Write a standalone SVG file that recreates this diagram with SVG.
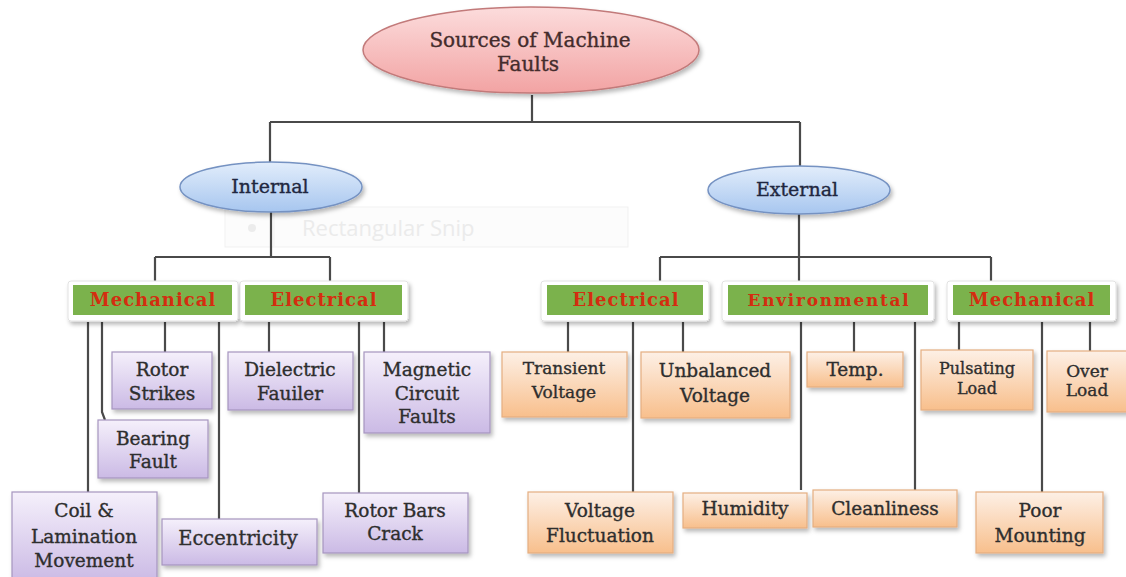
<svg xmlns="http://www.w3.org/2000/svg" width="1126" height="577" viewBox="0 0 1126 577">
  <defs>
    <linearGradient id="gPink" x1="0" y1="0" x2="0" y2="1">
      <stop offset="0" stop-color="#fcdcdc"/>
      <stop offset="1" stop-color="#f2a3a3"/>
    </linearGradient>
    <linearGradient id="gBlue" x1="0" y1="0" x2="0" y2="1">
      <stop offset="0" stop-color="#e2edfb"/>
      <stop offset="1" stop-color="#a7c6ef"/>
    </linearGradient>
    <linearGradient id="gPurple" x1="0" y1="0" x2="0" y2="1">
      <stop offset="0" stop-color="#f5f0fb"/>
      <stop offset="1" stop-color="#cbbae5"/>
    </linearGradient>
    <linearGradient id="gOrange" x1="0" y1="0" x2="0" y2="1">
      <stop offset="0" stop-color="#fdf0e6"/>
      <stop offset="1" stop-color="#f8bf8c"/>
    </linearGradient>
    <filter id="shadow" x="-10%" y="-10%" width="130%" height="140%">
      <feDropShadow dx="2" dy="3" stdDeviation="2" flood-color="#000" flood-opacity="0.28"/>
    </filter>
  </defs>
  <style>
    text { font-family: "DejaVu Serif", "Liberation Serif", serif; text-anchor: middle; }
    .root { fill: url(#gPink); stroke: #c27a7a; stroke-width: 1.5; filter: url(#shadow); }
    .branch { fill: url(#gBlue); stroke: #7592c2; stroke-width: 1.5; filter: url(#shadow); }
    .frame { fill: #ffffff; stroke: #e2e2e2; stroke-width: 1; filter: url(#shadow); }
    .green { fill: #7bb24c; }
    .purple { fill: url(#gPurple); stroke: #a695bf; stroke-width: 1.2; filter: url(#shadow); }
    .orange { fill: url(#gOrange); stroke: #e5ae80; stroke-width: 1.2; filter: url(#shadow); }
    .tRoot { font-size: 20px; fill: #442c2c; stroke: #442c2c; stroke-width: 0.35; }
    .tBranch { font-size: 19px; fill: #1f2740; stroke: #1f2740; stroke-width: 0.35; }
    .tHead { font-size: 18px; font-weight: bold; fill: #d42d10; letter-spacing: 1px; }
    .tLeaf { font-size: 18.5px; fill: #2e2e2e; stroke: #2e2e2e; stroke-width: 0.35; }
    .links { fill: none; stroke: #4a4a4a; stroke-width: 2.2; }
  </style>

  <rect width="1126" height="577" fill="#ffffff"/>

  <!-- faint snipping-tool overlay -->
  <g id="snip-overlay">
    <rect x="225" y="207" width="403" height="40" fill="#fcfcfc" stroke="#f1f1f1"/>
    <circle cx="252" cy="228" r="4" fill="#ececec"/>
    <line x1="274" y1="208" x2="274" y2="246" stroke="#f1f1f1"/>
    <text x="302" y="236" style="font-family:'Open Sans','Noto Sans',sans-serif;font-size:22px;fill:#ebebeb;text-anchor:start">Rectangular Snip</text>
  </g>

  <!-- connectors -->
  <g id="connectors" class="links">
    <path d="M532,95 V122 M270,122 H800 M270,122 V163 M800,122 V166"/>
    <path d="M271,212 V257 M155,257 H330 M155,257 V283 M330,257 V283"/>
    <path d="M88,322 V492 M102,322 V412 L105,420 M165,322 V352 M219,322 V519"/>
    <path d="M269,322 V352 M359,322 V493 M384,322 V352"/>
    <path d="M799,214 V257 M660,257 H991 M660,257 V283 M799,257 V283 M991,257 V283"/>
    <path d="M568,322 V352 M633,322 V492 M683,322 V352"/>
    <path d="M801,322 V490 M854,322 V352 M915,322 V490"/>
    <path d="M959,322 V350 M1042,322 V492 M1090,322 V351"/>
  </g>

  <!-- root -->
  <g id="root">
    <ellipse class="root" cx="531" cy="50" rx="168" ry="43"/>
    <text class="tRoot" x="530" y="47">Sources of Machine</text>
    <text class="tRoot" x="528" y="71">Faults</text>
  </g>

  <!-- branches -->
  <g id="internal">
    <ellipse class="branch" cx="271" cy="187" rx="91" ry="25"/>
    <text class="tBranch" x="270" y="193">Internal</text>
  </g>
  <g id="external">
    <ellipse class="branch" cx="799" cy="190" rx="91" ry="24"/>
    <text class="tBranch" x="797" y="196">External</text>
  </g>

  <!-- category headers -->
  <g id="int-mechanical">
    <rect class="frame" x="68" y="281" width="170" height="40" rx="3"/>
    <rect class="green" x="73" y="285" width="159" height="30"/>
    <text class="tHead" x="153" y="306">Mechanical</text>
  </g>
  <g id="int-electrical">
    <rect class="frame" x="240" y="281" width="168" height="40" rx="3"/>
    <rect class="green" x="245" y="285" width="157" height="30"/>
    <text class="tHead" x="324" y="306">Electrical</text>
  </g>
  <g id="ext-electrical">
    <rect class="frame" x="541" y="281" width="168" height="40" rx="3"/>
    <rect class="green" x="547" y="285" width="156" height="30"/>
    <text class="tHead" x="626" y="306">Electrical</text>
  </g>
  <g id="ext-environmental">
    <rect class="frame" x="722" y="281" width="212" height="40" rx="3"/>
    <rect class="green" x="728" y="285" width="200" height="30"/>
    <text class="tHead" x="829" y="306" style="font-size:17px;letter-spacing:1.7px">Environmental</text>
  </g>
  <g id="ext-mechanical">
    <rect class="frame" x="947" y="281" width="169" height="40" rx="3"/>
    <rect class="green" x="953" y="285" width="157" height="30"/>
    <text class="tHead" x="1032" y="306">Mechanical</text>
  </g>

  <!-- internal mechanical faults -->
  <g id="rotor-strikes">
    <rect class="purple" x="112" y="352" width="100" height="57"/>
    <text class="tLeaf" x="162" y="376">Rotor</text>
    <text class="tLeaf" x="162" y="400">Strikes</text>
  </g>
  <g id="bearing-fault">
    <rect class="purple" x="98" y="420" width="110" height="58"/>
    <text class="tLeaf" x="153" y="445">Bearing</text>
    <text class="tLeaf" x="153" y="468">Fault</text>
  </g>
  <g id="coil-lamination">
    <rect class="purple" x="12" y="492" width="145" height="90"/>
    <text class="tLeaf" x="84" y="517">Coil &amp;</text>
    <text class="tLeaf" x="84" y="543">Lamination</text>
    <text class="tLeaf" x="84" y="567">Movement</text>
  </g>
  <g id="eccentricity">
    <rect class="purple" x="162" y="519" width="155" height="46"/>
    <text class="tLeaf" x="238" y="545" style="font-size:19.5px">Eccentricity</text>
  </g>

  <!-- internal electrical faults -->
  <g id="dielectric">
    <rect class="purple" x="228" y="352" width="125" height="58"/>
    <text class="tLeaf" x="290" y="376">Dielectric</text>
    <text class="tLeaf" x="290" y="400">Fauiler</text>
  </g>
  <g id="magnetic-circuit">
    <rect class="purple" x="364" y="352" width="126" height="81"/>
    <text class="tLeaf" x="427" y="376">Magnetic</text>
    <text class="tLeaf" x="427" y="400">Circuit</text>
    <text class="tLeaf" x="427" y="423">Faults</text>
  </g>
  <g id="rotor-bars">
    <rect class="purple" x="323" y="493" width="145" height="60"/>
    <text class="tLeaf" x="395" y="517">Rotor Bars</text>
    <text class="tLeaf" x="395" y="540">Crack</text>
  </g>

  <!-- external electrical faults -->
  <g id="transient-voltage">
    <rect class="orange" x="502" y="352" width="125" height="65"/>
    <text class="tLeaf" x="564" y="374" style="font-size:17px">Transient</text>
    <text class="tLeaf" x="564" y="398" style="font-size:17px">Voltage</text>
  </g>
  <g id="unbalanced-voltage">
    <rect class="orange" x="641" y="352" width="149" height="66"/>
    <text class="tLeaf" x="715" y="377">Unbalanced</text>
    <text class="tLeaf" x="715" y="402">Voltage</text>
  </g>
  <g id="voltage-fluctuation">
    <rect class="orange" x="528" y="492" width="145" height="61"/>
    <text class="tLeaf" x="600" y="517">Voltage</text>
    <text class="tLeaf" x="600" y="542">Fluctuation</text>
  </g>

  <!-- environmental faults -->
  <g id="temp">
    <rect class="orange" x="807" y="352" width="96" height="35"/>
    <text class="tLeaf" x="855" y="376">Temp.</text>
  </g>
  <g id="humidity">
    <rect class="orange" x="683" y="493" width="124" height="35"/>
    <text class="tLeaf" x="745" y="515">Humidity</text>
  </g>
  <g id="cleanliness">
    <rect class="orange" x="813" y="490" width="144" height="37"/>
    <text class="tLeaf" x="885" y="515">Cleanliness</text>
  </g>

  <!-- external mechanical faults -->
  <g id="pulsating-load">
    <rect class="orange" x="921" y="350" width="112" height="60"/>
    <text class="tLeaf" x="977" y="374" style="font-size:16px">Pulsating</text>
    <text class="tLeaf" x="977" y="394" style="font-size:16px">Load</text>
  </g>
  <g id="over-load">
    <rect class="orange" x="1047" y="351" width="85" height="61"/>
    <text class="tLeaf" x="1087" y="377" style="font-size:17px">Over</text>
    <text class="tLeaf" x="1087" y="396" style="font-size:17px">Load</text>
  </g>
  <g id="poor-mounting">
    <rect class="orange" x="976" y="492" width="127" height="61"/>
    <text class="tLeaf" x="1040" y="517">Poor</text>
    <text class="tLeaf" x="1040" y="542">Mounting</text>
  </g>
</svg>
